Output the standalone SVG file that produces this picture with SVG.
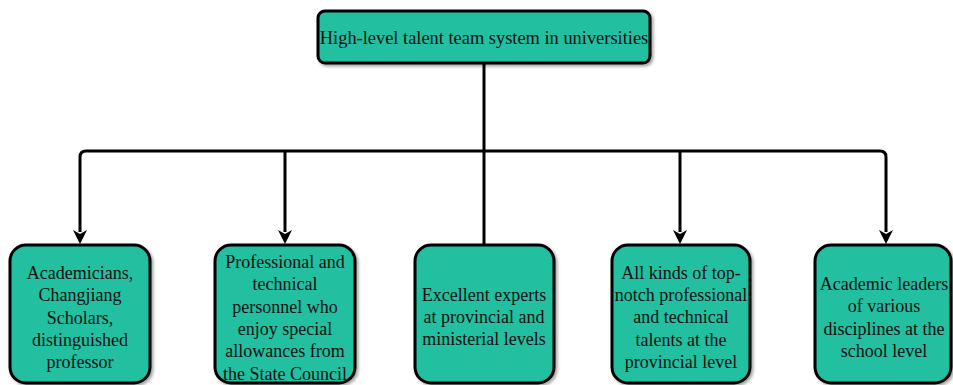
<svg xmlns="http://www.w3.org/2000/svg" width="953" height="385" viewBox="0 0 953 385">
<defs>
<style>
.box{fill:#22bfa0;stroke:#000;stroke-width:3;filter:url(#sh)}
.t{font-family:"Liberation Serif","DejaVu Serif",serif;font-size:18px;fill:#111;text-anchor:middle}
.c{fill:none;stroke:#000;stroke-width:3;stroke-linejoin:round}
</style>
<filter id="sh" x="-10%" y="-10%" width="125%" height="125%">
<feDropShadow dx="2" dy="2" stdDeviation="1.5" flood-color="#000" flood-opacity="0.35"/>
</filter>
</defs>
<rect width="953" height="385" fill="#fff"/>
<g id="connectors">
<path class="c" d="M484,63 V245"/>
<path class="c" d="M80,232 V157 Q80,151 86,151 H880 Q886,151 886,157 V232"/>
<path class="c" d="M285,151 V232"/>
<path class="c" d="M680,151 V232"/>
<path d="M73,230 L80,244 L87,230 L80,234 Z" fill="#000"/>
<path d="M278,230 L285,244 L292,230 L285,234 Z" fill="#000"/>
<path d="M673,230 L680,244 L687,230 L680,234 Z" fill="#000"/>
<path d="M879,230 L886,244 L893,230 L886,234 Z" fill="#000"/>
</g>
<g id="top">
<rect class="box" x="318" y="11" width="332" height="52" rx="7"/>
<text class="t" x="484" y="44" font-family="'Liberation Serif', serif" style="font-size:18.4px">High-level talent team system in universities</text>
</g>
<g id="n1">
<rect class="box" x="10" y="245" width="140" height="138" rx="16"/>
<text class="t" font-family="'Liberation Serif', serif"><tspan x="80" y="279">Academicians,</tspan><tspan x="80" y="301">Changjiang</tspan><tspan x="80" y="324">Scholars,</tspan><tspan x="80" y="346">distinguished</tspan><tspan x="80" y="368">professor</tspan></text>
</g>
<g id="n2">
<rect class="box" x="215" y="245" width="140" height="138" rx="16"/>
<text class="t" font-family="'Liberation Serif', serif"><tspan x="285" y="268">Professional and</tspan><tspan x="285" y="290">technical</tspan><tspan x="285" y="313">personnel who</tspan><tspan x="285" y="335">enjoy special</tspan><tspan x="285" y="357">allowances from</tspan><tspan x="285" y="380">the State Council</tspan></text>
</g>
<g id="n3">
<rect class="box" x="415" y="245" width="139" height="138" rx="16"/>
<text class="t" font-family="'Liberation Serif', serif"><tspan x="484" y="301">Excellent experts</tspan><tspan x="484" y="323">at provincial and</tspan><tspan x="484" y="345">ministerial levels</tspan></text>
</g>
<g id="n4">
<rect class="box" x="612" y="245" width="138" height="138" rx="16"/>
<text class="t" font-family="'Liberation Serif', serif"><tspan x="681" y="279">All kinds of top-</tspan><tspan x="681" y="301">notch professional</tspan><tspan x="681" y="323">and technical</tspan><tspan x="681" y="346">talents at the</tspan><tspan x="681" y="368">provincial level</tspan></text>
</g>
<g id="n5">
<rect class="box" x="815" y="245" width="136" height="138" rx="16"/>
<text class="t" font-family="'Liberation Serif', serif"><tspan x="884" y="290">Academic leaders</tspan><tspan x="884" y="312">of various</tspan><tspan x="884" y="335">disciplines at the</tspan><tspan x="884" y="357">school level</tspan></text>
</g>
</svg>
